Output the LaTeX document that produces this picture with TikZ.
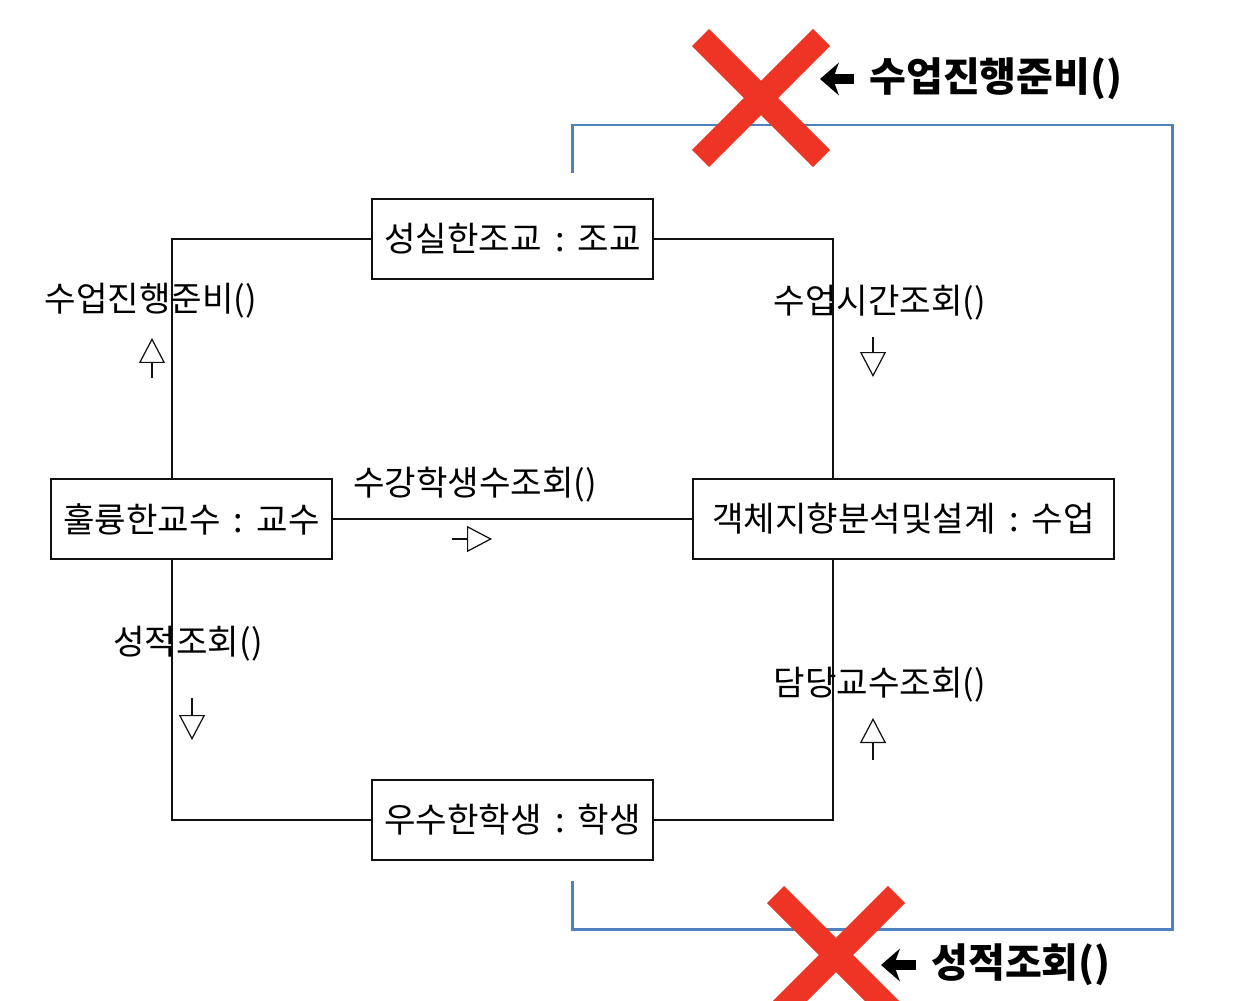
\documentclass[tikz,border=0pt]{standalone}
\usepackage{fontspec}
\setmainfont{Noto Sans CJK KR}
\usepackage{tikz}
\usetikzlibrary{arrows.meta,positioning}
\definecolor{xred}{HTML}{EE3424}
\definecolor{routeblue}{HTML}{4F81BD}
\definecolor{umlink}{HTML}{111111}
\tikzset{
  obj/.style={draw=umlink,line width=1.1pt,inner sep=0pt,minimum height=1.6cm,font=\fontsize{19.5}{22}\selectfont},
  link/.style={draw=umlink,line width=0.9pt},
  msglbl/.style={font=\fontsize{19.5}{22}\selectfont,inner sep=0pt},
  msg/.style={draw=umlink,line width=0.7pt,-{Triangle[open,length=0.5cm,width=0.52cm]}},
  cross/.style={xred,line width=13.8pt},
  route/.style={routeblue,line width=1.7pt},
  note/.style={font=\fontsize{22.8}{26}\selectfont\bfseries,inner sep=0pt,anchor=west},
  pointer/.style={line width=6pt,{Stealth[length=0.38cm,width=0.66cm,inset=0.12cm,line width=0pt]}-},
}

\begin{document}
\begin{tikzpicture}[x=0.02cm,y=-0.02cm]
  \useasboundingbox (0,0) rectangle (1260,1000);

  % objects
  \node[obj,minimum width=5.62cm] (ta) at (512.5,239) {성실한조교\ \,:\ \,조교};
  \node[obj,minimum width=5.62cm] (prof) at (191.5,519) {훌륭한교수\ \,:\ \,교수};
  \node[obj,minimum width=8.42cm] (course) at (903.5,519) {객체지향분석및설계\ \,:\ \,수업};
  \node[obj,minimum width=5.62cm] (stud) at (512.5,820) {우수한학생\ \,:\ \,학생};

  % links
  \draw[link] (ta.west) -| ([xshift=-0.39cm]prof.north);
  \draw[link] (ta.east) -| ([xshift=-1.41cm]course.north);
  \draw[link] (prof.east) -- (course.west);
  \draw[link] ([xshift=-0.39cm]prof.south) |- (stud.west);
  \draw[link] (stud.east) -| ([xshift=-1.41cm]course.south);

  % messages
  \node[msglbl] (prep) at (151,301) {수업진행준비()};
  \node[msglbl] (hours) at (880,303) {수업시간조회()};
  \node[msglbl] (count) at (475,485) {수강학생수조회()};
  \node[msglbl] (grade) at (188,644) {성적조회()};
  \node[msglbl] (lect) at (880,685) {담당교수조회()};
  \foreach \n/\xa/\ya/\xb/\yb in {1/152/378/152/338, 2/873/337/873/377, 3/452/539/492/539, 4/192/698/192/740, 5/873/760/873/718} {
    \coordinate (t\n) at (\xa,\ya);
    \coordinate (h\n) at (\xb,\yb);
    \draw[msg] (t\n) -- (h\n);
  }

  % blue route
  \coordinate (rs) at (572,173);
  \coordinate (rc1) at (1172,125);
  \coordinate (rc2) at (1172,929);
  \coordinate (re) at (572,881);
  \draw[route] (rs) |- (rc1) -- (rc2) -| (re);

  % crosses
  \coordinate (x1) at (761,98);
  \coordinate (x2) at (836,955);
  \foreach \c in {x1,x2} {
    \draw[cross] ([shift={(-60.5,-60.5)}]\c) -- ([shift={(60.5,60.5)}]\c);
    \draw[cross] ([shift={(60.5,-60.5)}]\c) -- ([shift={(-60.5,60.5)}]\c);
  }

  % notes
  \node[note] (n1) at (869,79) {수업진행준비()};
  \node[note] (n2) at (931,965) {성적조회()};
  \coordinate (p1) at (820,79);
  \coordinate (p2) at (881,965);
  \draw[pointer] (p1) -- ([xshift=-0.3cm]n1.west);
  \draw[pointer] (p2) -- ([xshift=-0.3cm]n2.west);
\end{tikzpicture}
\end{document}
